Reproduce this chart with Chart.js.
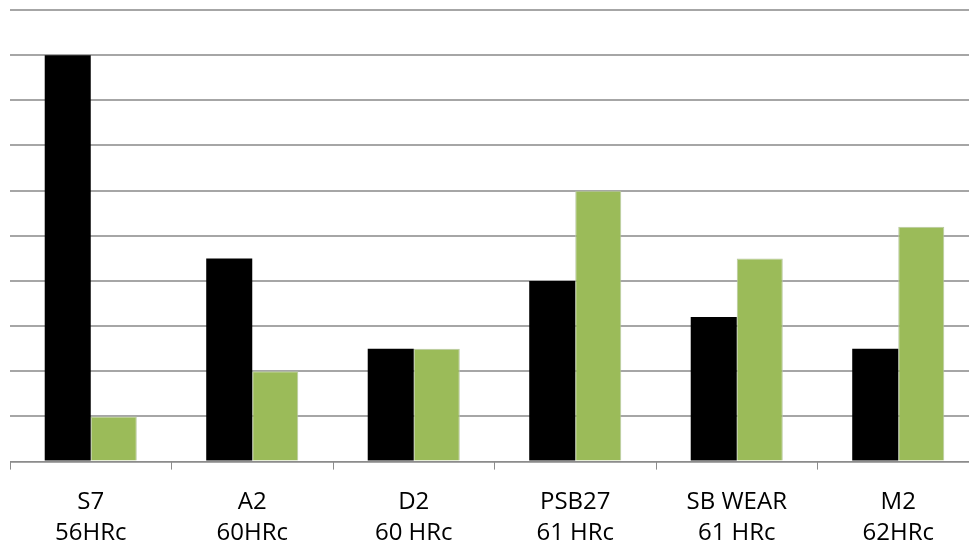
<!DOCTYPE html>
<html>
<head>
<meta charset="utf-8">
<script src="https://cdn.jsdelivr.net/npm/chart.js@4"></script>
<style>
  html, body { margin: 0; padding: 0; background: #fff; overflow: hidden; }
  #wrap { width: 979px; height: 546px; }
</style>
</head>
<body>
<div id="wrap"><canvas id="bars"></canvas></div>
<script>
const categories = [['S7', '56HRc'], ['A2', '60HRc'], ['D2', '60 HRc'], ['PSB27', '61 HRc'], ['SB WEAR', '61 HRc'], ['M2', '62HRc']];
const blackValues = [9, 4.5, 2.5, 4, 3.2, 2.5];
const greenValues = [1, 2, 2.5, 6, 4.5, 5.2];

const ctx = document.getElementById('bars');

new Chart(ctx, {
  type: 'bar',
  data: {
    labels: categories,
    datasets: [{
      label: 'series 1',
      data: blackValues,
      backgroundColor: '#000000',
      borderWidth: 0,
      categoryPercentage: 0.57,
      barPercentage: 1
    }, {
      label: 'series 2',
      data: greenValues,
      backgroundColor: '#9bbb59',
      borderColor: '#b8c8a0',
      borderWidth: 1,
      categoryPercentage: 0.57,
      barPercentage: 1
    }]
  },
  options: {
    responsive: true,
    maintainAspectRatio: false,
    animation: false,
    layout: { padding: { left: 10, right: 0, top: 10, bottom: -20 } },
    plugins: {
      legend: { display: false },
      tooltip: { enabled: false }
    },
    scales: {
      y: {
        min: 0,
        max: 10,
        ticks: { display: false, stepSize: 1 },
        border: { display: false },
        grid: { color: '#a6a6a6', lineWidth: 2, drawTicks: false }
      },
      x: {
        border: { color: '#8c8c8c', width: 1 },
        grid: { offset: true, drawOnChartArea: false, color: '#8c8c8c', tickLength: 8 },
        ticks: {
          color: '#000',
          padding: 17,
          font: { family: 'Open Sans', size: 24, lineHeight: 1.3 },
          maxRotation: 0
        }
      }
    }
  }
});
</script>
</body>
</html>
